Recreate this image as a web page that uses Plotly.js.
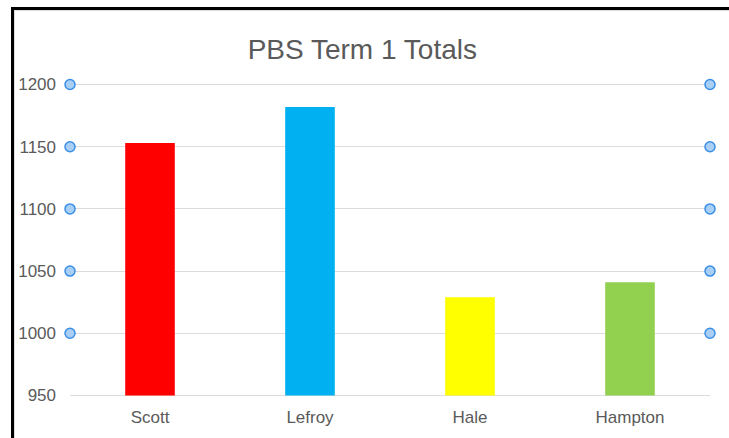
<!DOCTYPE html>
<html>
<head>
<meta charset="utf-8">
<script src="https://cdn.plot.ly/plotly-3.0.1.min.js"></script>
<style>
html,body{margin:0;padding:0;background:#fff;}
#wrap{position:relative;width:729px;height:438px;overflow:hidden;}
#chart{position:absolute;left:0;top:0;width:729px;height:438px;}
.bk-top{position:absolute;left:11px;top:7px;width:718px;height:2.5px;background:#000;}
.bk-left{position:absolute;left:11px;top:7px;width:2.5px;height:431px;background:#000;}
.gr-top{position:absolute;left:14px;top:10px;width:715px;height:1px;background:#ddd;}
.gr-left{position:absolute;left:14px;top:10px;width:1px;height:428px;background:#ddd;}
</style>
</head>
<body>
<div id="wrap">
<div id="chart"></div>
<div class="gr-top"></div><div class="gr-left"></div>
<div class="bk-top"></div><div class="bk-left"></div>
</div>
<script>
var categories = ["Scott", "Lefroy", "Hale", "Hampton"];
var totals = [1153, 1182, 1029, 1041];
var barColors = ["#ff0000", "#00b0f0", "#ffff00", "#92d050"];
var yTicks = [950, 1000, 1050, 1100, 1150, 1200];
var handleTicks = [1000, 1050, 1100, 1150, 1200];
var yRange = [948, 1202];

var shapes = [];
handleTicks.forEach(function (v) {
  var py = (v - yRange[0]) / (yRange[1] - yRange[0]);
  [0, 1].forEach(function (side) {
    shapes.push({
      type: "circle", xref: "paper", yref: "paper",
      xsizemode: "pixel", ysizemode: "pixel",
      xanchor: side, yanchor: py,
      x0: -5, x1: 5, y0: -5, y1: 5,
      fillcolor: "#a9cff5",
      line: {color: "#3a8ee6", width: 1.5},
      layer: "above"
    });
  });
});

var baseValue = yTicks[0];
var trace = {
  type: "bar",
  x: categories,
  y: totals.map(function (v) { return v - baseValue; }),
  base: baseValue,
  marker: {color: barColors, line: {width: 0}},
  hoverinfo: "x+y"
};

var layout = {
  width: 729, height: 438,
  margin: {l: 70, r: 19, t: 82, b: 40, pad: 0},
  paper_bgcolor: "#ffffff",
  plot_bgcolor: "#ffffff",
  font: {family: "Liberation Sans, Arial, sans-serif", color: "#5a5a5a", size: 17},
  title: {
    text: "PBS Term 1 Totals",
    font: {family: "Liberation Sans, Arial, sans-serif", size: 28, color: "#5a5a5a"},
    x: 0.497, xanchor: "center",
    y: 0.887, yanchor: "middle", yref: "container"
  },
  bargap: 0.69,
  showlegend: false,
  xaxis: {
    type: "category",
    showgrid: false, zeroline: false, showline: false,
    ticks: "", ticklen: 0,
    tickfont: {size: 17, color: "#5a5a5a"},
    ticklabelstandoff: 7
  },
  yaxis: {
    range: yRange,
    tickvals: yTicks,
    ticktext: yTicks.map(String),
    showgrid: true, gridcolor: "#dcdcdc", gridwidth: 1,
    zeroline: false, showline: false,
    ticks: "",
    tickfont: {size: 17, color: "#5a5a5a"},
    ticklabelstandoff: 13
  },
  shapes: shapes
};

Plotly.newPlot("chart", [trace], layout, {displayModeBar: false, staticPlot: true});
</script>
</body>
</html>
